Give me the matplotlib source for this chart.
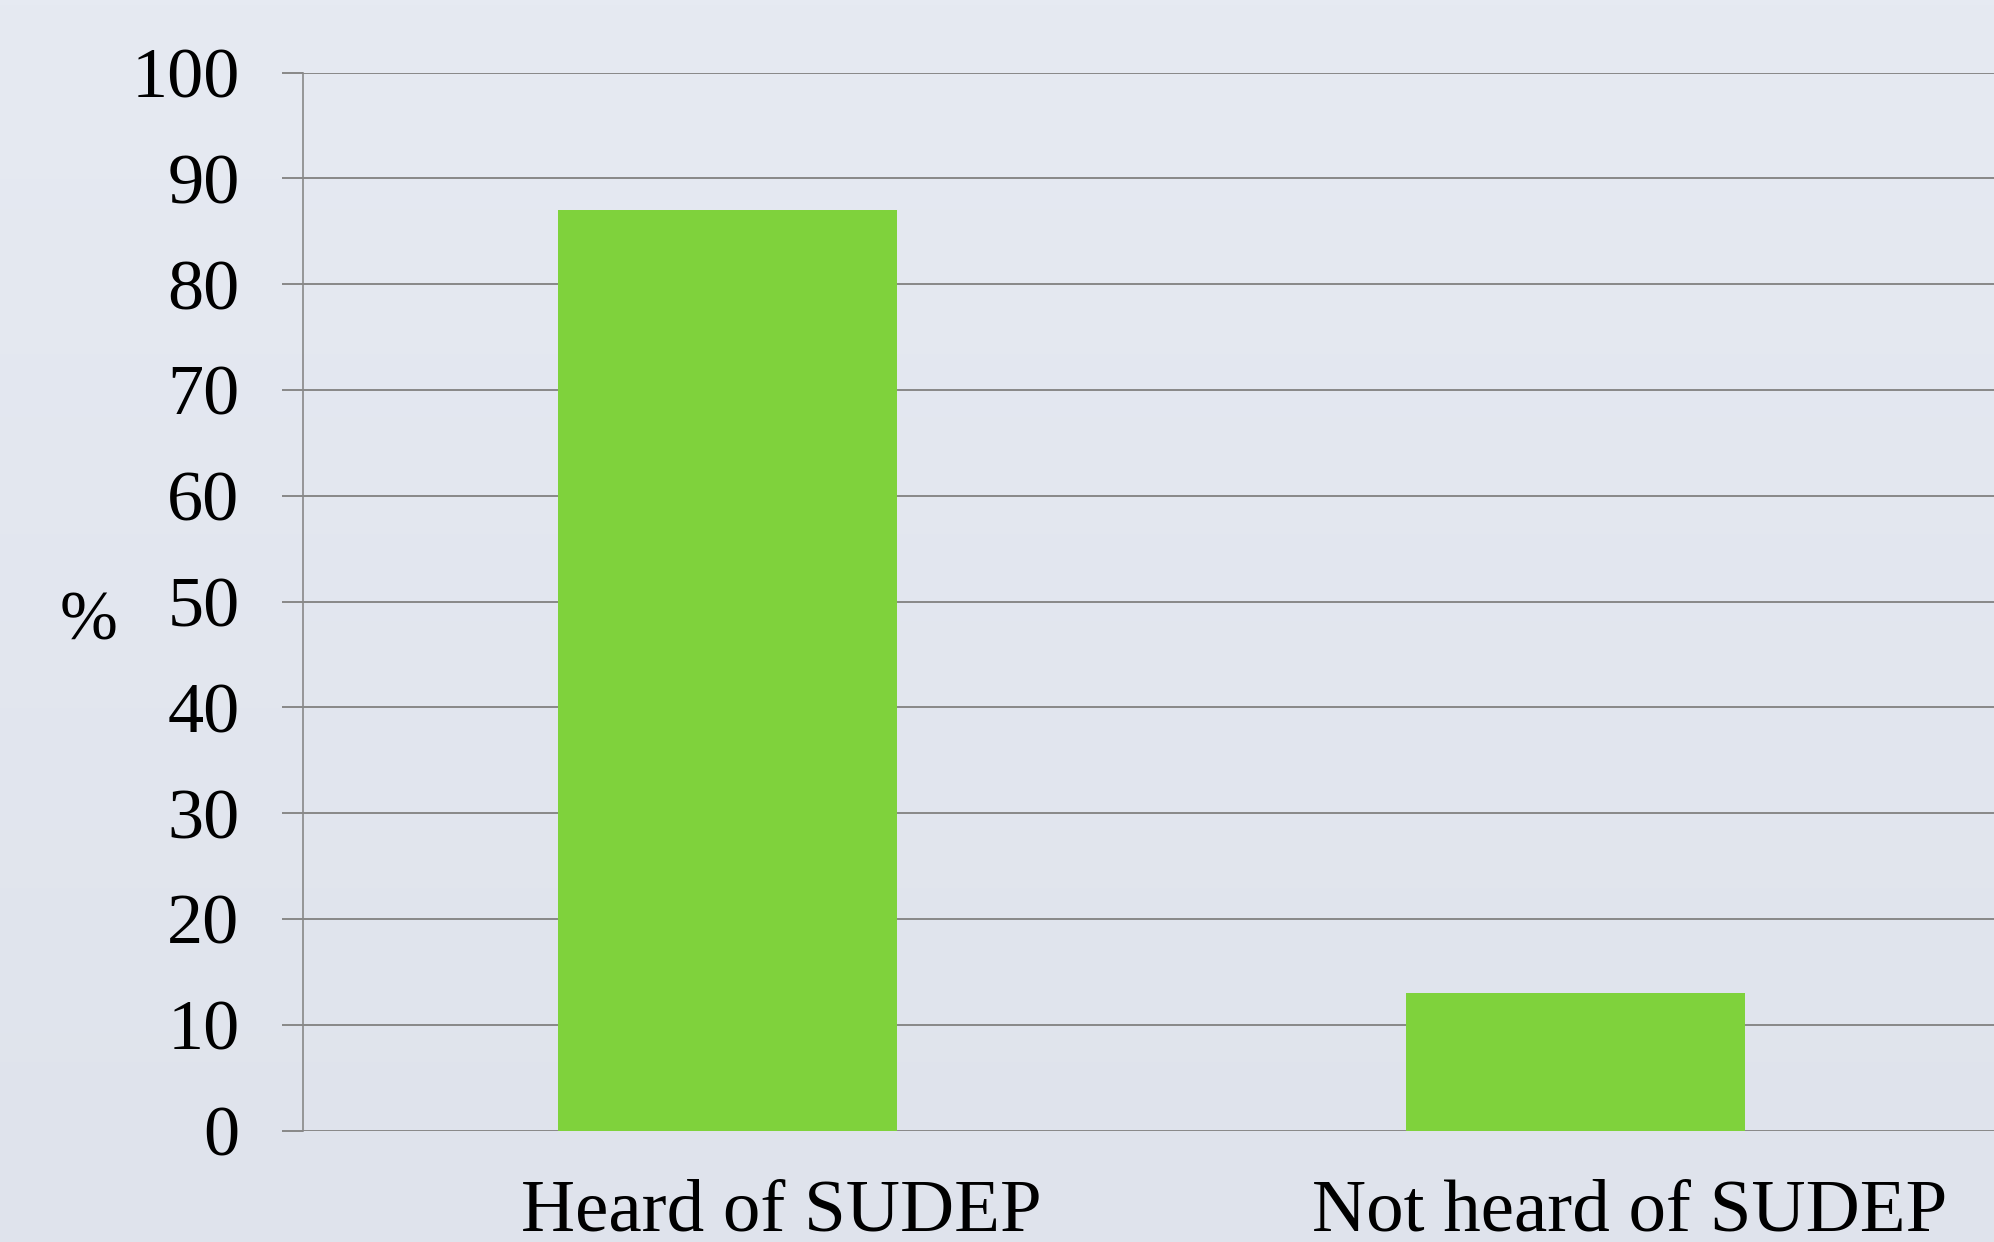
import numpy as np
import matplotlib.pyplot as plt
from matplotlib.colors import LinearSegmentedColormap
from matplotlib.transforms import ScaledTranslation

# Dữ liệu
categories = ['Heard of SUDEP', 'Not heard of SUDEP']
values = [87, 13]
y_ticks = [0, 10, 20, 30, 40, 50, 60, 70, 80, 90, 100]

bar_color = '#7FD23C'
grid_color = '#888888'

plt.rcParams['font.family'] = ['Liberation Serif', 'DejaVu Serif']

fig = plt.figure(figsize=(19.94, 12.42), dpi=100)

# nền gradient nhẹ
bg = fig.add_axes([0, 0, 1, 1], zorder=-10)
grad = np.linspace(0, 1, 256).reshape(-1, 1)
bg_cmap = LinearSegmentedColormap.from_list("bg", ["#E6EAF2", "#DFE3EC"])
bg.imshow(grad, aspect='auto', cmap=bg_cmap, extent=[0, 1, 0, 1])
bg.axis('off')

ax = fig.add_axes([0.1522, 0.0897, 0.8506, 0.8519])
ax.patch.set_alpha(0)

x = np.arange(len(categories))
ax.bar(x, values, width=0.4, color=bar_color, zorder=3)

ax.set_xlim(-0.5, 1.5)
ax.set_ylim(0, 100)
ax.set_yticks(y_ticks)
ax.set_xticks(x)
ax.set_xticklabels(categories)

ax.grid(axis='y', color=grid_color, linewidth=1.4, zorder=0)
ax.set_axisbelow(True)

for s in ['top', 'right', 'bottom']:
    ax.spines[s].set_visible(False)
ax.spines['left'].set_color(grid_color)
ax.spines['left'].set_linewidth(1.2)

ax.tick_params(axis='y', length=15, width=1.4, color=grid_color, pad=31, labelsize=52)
ax.tick_params(axis='x', length=0, pad=35, labelsize=54)

# dịch nhãn trục x sang phải một chút
offset = ScaledTranslation(54 / 100, 0, fig.dpi_scale_trans)
for lbl in ax.get_xticklabels():
    lbl.set_transform(lbl.get_transform() + offset)

ax.set_ylabel('%', rotation=0, fontsize=50, va='center', ha='center')
ax.yaxis.set_label_coords(-0.127, 0.48)

plt.savefig('out.png', dpi=100)
